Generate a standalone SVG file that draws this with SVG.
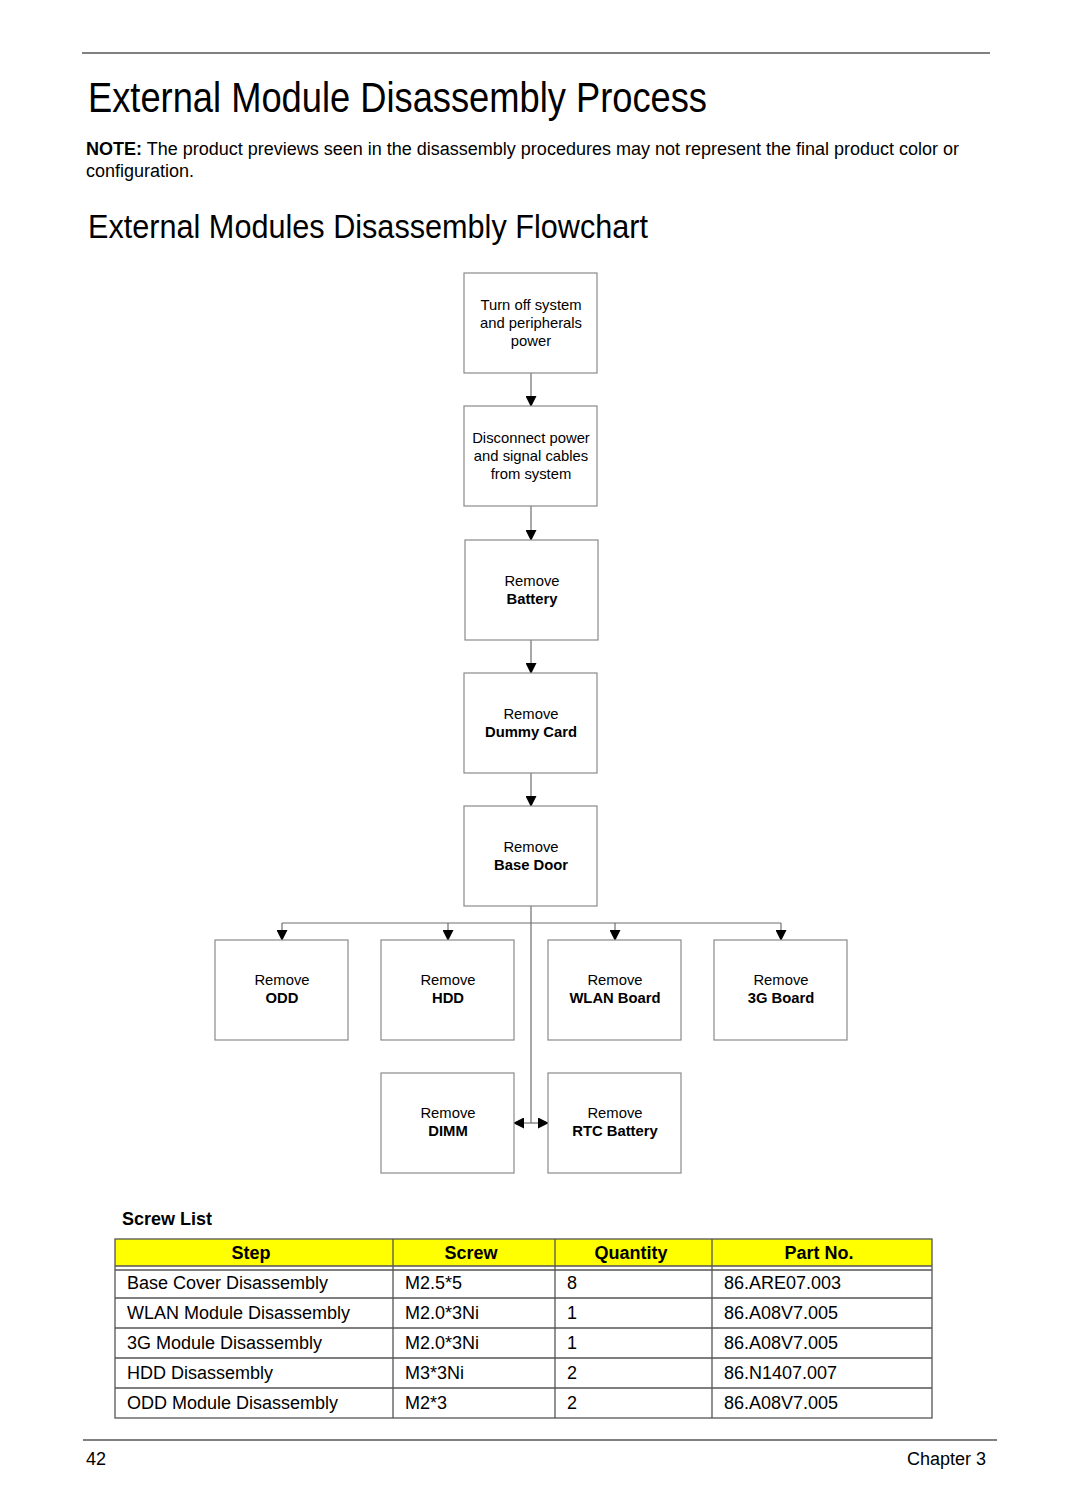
<svg xmlns="http://www.w3.org/2000/svg" width="1080" height="1512" viewBox="0 0 1080 1512">
<defs>
<marker id="arr" markerWidth="11" markerHeight="11" refX="10" refY="5.5" orient="auto" markerUnits="userSpaceOnUse">
<path d="M0,0 L11,5.5 L0,11 Z" fill="#000"/>
</marker>
<style>
text{font-family:"Liberation Sans",Arial,sans-serif;fill:#000}
.box{fill:#fff;stroke:#8a8a8a;stroke-width:1.2}
.bt{font-size:14.8px;text-anchor:middle}
.bb{font-size:14.8px;text-anchor:middle;font-weight:bold}
.con{fill:none;stroke:#6e6e6e;stroke-width:1.2}
.tl{stroke:#555;stroke-width:1.3;fill:none}
.cell{font-size:18px}
.hd{font-size:18px;font-weight:bold;text-anchor:middle}
</style>
</defs>
<rect width="1080" height="1512" fill="#fff"/>
<line x1="82" y1="53" x2="990" y2="53" stroke="#808080" stroke-width="2"/>
<text x="88" y="112" font-size="42" textLength="619" lengthAdjust="spacingAndGlyphs">External Module Disassembly Process</text>
<text x="86" y="155" font-size="18"><tspan font-weight="bold">NOTE:</tspan> The product previews seen in the disassembly procedures may not represent the final product color or</text>
<text x="86" y="177" font-size="18">configuration.</text>
<text x="88" y="238" font-size="33" textLength="560" lengthAdjust="spacingAndGlyphs">External Modules Disassembly Flowchart</text>

<g id="connectors">
<line class="con" x1="531" y1="373" x2="531" y2="406" marker-end="url(#arr)"/>
<line class="con" x1="531" y1="506" x2="531" y2="540" marker-end="url(#arr)"/>
<line class="con" x1="531" y1="640" x2="531" y2="673" marker-end="url(#arr)"/>
<line class="con" x1="531" y1="773" x2="531" y2="806" marker-end="url(#arr)"/>
<line class="con" x1="531" y1="906" x2="531" y2="1123"/>
<line class="con" x1="282" y1="923" x2="781" y2="923"/>
<line class="con" x1="282" y1="923" x2="282" y2="940" marker-end="url(#arr)"/>
<line class="con" x1="448" y1="923" x2="448" y2="940" marker-end="url(#arr)"/>
<line class="con" x1="615" y1="923" x2="615" y2="940" marker-end="url(#arr)"/>
<line class="con" x1="781" y1="923" x2="781" y2="940" marker-end="url(#arr)"/>
<line class="con" x1="531" y1="1123" x2="514" y2="1123" marker-end="url(#arr)"/>
<line class="con" x1="531" y1="1123" x2="548" y2="1123" marker-end="url(#arr)"/>
</g>

<g id="n1"><rect class="box" x="464" y="273" width="133" height="100"/>
<text class="bt" x="531" y="310">Turn off system</text><text class="bt" x="531" y="328">and peripherals</text><text class="bt" x="531" y="346">power</text></g>
<g id="n2"><rect class="box" x="464" y="406" width="133" height="100"/>
<text class="bt" x="531" y="443">Disconnect power</text><text class="bt" x="531" y="461">and signal cables</text><text class="bt" x="531" y="479">from system</text></g>
<g id="n3"><rect class="box" x="465" y="540" width="133" height="100"/>
<text class="bt" x="532" y="586">Remove</text><text class="bb" x="532" y="604">Battery</text></g>
<g id="n4"><rect class="box" x="464" y="673" width="133" height="100"/>
<text class="bt" x="531" y="719">Remove</text><text class="bb" x="531" y="737">Dummy Card</text></g>
<g id="n5"><rect class="box" x="464" y="806" width="133" height="100"/>
<text class="bt" x="531" y="852">Remove</text><text class="bb" x="531" y="870">Base Door</text></g>
<g id="n6"><rect class="box" x="215" y="940" width="133" height="100"/>
<text class="bt" x="282" y="985">Remove</text><text class="bb" x="282" y="1003">ODD</text></g>
<g id="n7"><rect class="box" x="381" y="940" width="133" height="100"/>
<text class="bt" x="448" y="985">Remove</text><text class="bb" x="448" y="1003">HDD</text></g>
<g id="n8"><rect class="box" x="548" y="940" width="133" height="100"/>
<text class="bt" x="615" y="985">Remove</text><text class="bb" x="615" y="1003">WLAN Board</text></g>
<g id="n9"><rect class="box" x="714" y="940" width="133" height="100"/>
<text class="bt" x="781" y="985">Remove</text><text class="bb" x="781" y="1003">3G Board</text></g>
<g id="n10"><rect class="box" x="381" y="1073" width="133" height="100"/>
<text class="bt" x="448" y="1118">Remove</text><text class="bb" x="448" y="1136">DIMM</text></g>
<g id="n11"><rect class="box" x="548" y="1073" width="133" height="100"/>
<text class="bt" x="615" y="1118">Remove</text><text class="bb" x="615" y="1136">RTC Battery</text></g>

<g id="screw-table">
<text x="122" y="1225" font-size="18" font-weight="bold">Screw List</text>
<rect x="115" y="1239" width="817" height="27" fill="#ffff00"/>
<rect class="tl" x="115" y="1239" width="817" height="179"/>
<line class="tl" x1="115" y1="1266" x2="932" y2="1266"/>
<line class="tl" x1="115" y1="1270" x2="932" y2="1270"/>
<line class="tl" x1="115" y1="1298" x2="932" y2="1298"/>
<line class="tl" x1="115" y1="1328" x2="932" y2="1328"/>
<line class="tl" x1="115" y1="1358" x2="932" y2="1358"/>
<line class="tl" x1="115" y1="1388" x2="932" y2="1388"/>
<line class="tl" x1="393" y1="1239" x2="393" y2="1418"/>
<line class="tl" x1="555" y1="1239" x2="555" y2="1418"/>
<line class="tl" x1="712" y1="1239" x2="712" y2="1418"/>
<text class="hd" x="251" y="1259">Step</text>
<text class="hd" x="471" y="1259">Screw</text>
<text class="hd" x="631" y="1259">Quantity</text>
<text class="hd" x="819" y="1259">Part No.</text>
<text class="cell" x="127" y="1289">Base Cover Disassembly</text>
<text class="cell" x="405" y="1289">M2.5*5</text>
<text class="cell" x="567" y="1289">8</text>
<text class="cell" x="724" y="1289">86.ARE07.003</text>
<text class="cell" x="127" y="1319">WLAN Module Disassembly</text>
<text class="cell" x="405" y="1319">M2.0*3Ni</text>
<text class="cell" x="567" y="1319">1</text>
<text class="cell" x="724" y="1319">86.A08V7.005</text>
<text class="cell" x="127" y="1349">3G Module Disassembly</text>
<text class="cell" x="405" y="1349">M2.0*3Ni</text>
<text class="cell" x="567" y="1349">1</text>
<text class="cell" x="724" y="1349">86.A08V7.005</text>
<text class="cell" x="127" y="1379">HDD Disassembly</text>
<text class="cell" x="405" y="1379">M3*3Ni</text>
<text class="cell" x="567" y="1379">2</text>
<text class="cell" x="724" y="1379">86.N1407.007</text>
<text class="cell" x="127" y="1409">ODD Module Disassembly</text>
<text class="cell" x="405" y="1409">M2*3</text>
<text class="cell" x="567" y="1409">2</text>
<text class="cell" x="724" y="1409">86.A08V7.005</text>
</g>

<line x1="83" y1="1440" x2="997" y2="1440" stroke="#808080" stroke-width="2"/>
<text x="86" y="1465" font-size="18">42</text>
<text x="986" y="1465" font-size="18" text-anchor="end">Chapter 3</text>
</svg>
